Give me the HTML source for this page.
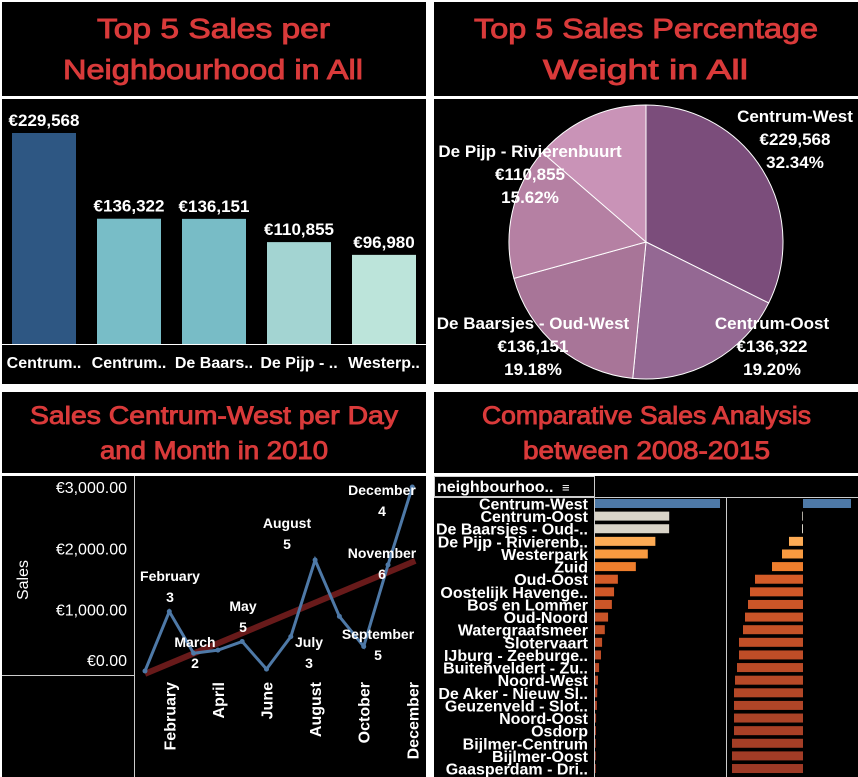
<!DOCTYPE html>
<html><head><meta charset="utf-8">
<style>
html,body{margin:0;padding:0;background:#fff;width:858px;height:777px;overflow:hidden}
svg{display:block}
text{font-family:"Liberation Sans",sans-serif}
.t{fill:#d93a3a;font-size:28px;stroke:#d93a3a;stroke-width:0.9}
.w{fill:#fff;font-weight:bold}
</style></head>
<body>
<svg id="dash" width="858" height="777" viewBox="0 0 858 777" xmlns="http://www.w3.org/2000/svg">
<rect width="858" height="777" fill="#fff"/>
<rect x="2" y="2" width="424" height="94" fill="#000"/>
<rect x="434" y="2" width="424" height="94" fill="#000"/>
<rect x="2" y="99" width="424" height="285" fill="#000"/>
<rect x="434" y="99" width="424" height="285" fill="#000"/>
<rect x="2" y="392" width="424" height="81" fill="#000"/>
<rect x="434" y="392" width="424" height="81" fill="#000"/>
<rect x="2" y="476" width="424" height="301" fill="#000"/>
<rect x="434" y="476" width="424" height="301" fill="#000"/>

<text class="t" x="97" y="38" textLength="233" lengthAdjust="spacingAndGlyphs">Top 5 Sales per</text>
<text class="t" x="63" y="79" textLength="300" lengthAdjust="spacingAndGlyphs">Neighbourhood in All</text>
<text class="t" x="474" y="38" textLength="344" lengthAdjust="spacingAndGlyphs">Top 5 Sales Percentage</text>
<text class="t" x="543" y="79" textLength="205" lengthAdjust="spacingAndGlyphs">Weight in  All</text>
<text class="t" x="30" y="424" textLength="368" lengthAdjust="spacingAndGlyphs" style="font-size:25px">Sales Centrum-West  per Day</text>
<text class="t" x="100" y="459" textLength="228" lengthAdjust="spacingAndGlyphs" style="font-size:25px">and Month in 2010</text>
<text class="t" x="482" y="424" textLength="329" lengthAdjust="spacingAndGlyphs" style="font-size:25px">Comparative Sales Analysis</text>
<text class="t" x="523" y="459" textLength="247" lengthAdjust="spacingAndGlyphs" style="font-size:25px">between 2008-2015</text>

<g id="bars"></g>
<g id="pie"></g>
<g id="line"></g>
<g id="comp"></g>
</svg>
<script>
const NS='http://www.w3.org/2000/svg';
function mk(tag,attrs,parent,txt){const e=document.createElementNS(NS,tag);for(const k in attrs)e.setAttribute(k,attrs[k]);if(txt!==undefined)e.textContent=txt;parent.appendChild(e);return e;}

const barCats=['Centrum..','Centrum..','De Baars..','De Pijp - ..','Westerp..'];
const barVals=[229568,136322,136151,110855,96980];
const barColors=['#2e5783','#78bdc7','#78bcc6','#a3d4d2','#bce4da'];

const pieNames=['Centrum-West','Centrum-Oost','De Baarsjes - Oud-West','De Pijp - Rivierenbuurt','Westerpark'];
const pieVals=[229568,136322,136151,110855,96980];
const pieColors=['#7b4d7b','#946893','#a87598','#b580a3','#c993b7'];

const months=['January','February','March','April','May','June','July','August','September','October','November','December'];
const monthSales=[0,970,290,340,480,30,560,1810,890,400,1730,3000];
const monthDays=[null,3,2,null,5,null,3,5,5,null,6,4];
const yTicks=[0,1000,2000,3000];

const compCats=['Centrum-West','Centrum-Oost','De Baarsjes - Oud-..','De Pijp - Rivierenb..','Westerpark','Zuid','Oud-Oost','Oostelijk Havenge..','Bos en Lommer','Oud-Noord','Watergraafsmeer','Slotervaart','IJburg - Zeeburge..','Buitenveldert - Zu..','Noord-West','De Aker - Nieuw Sl..','Geuzenveld - Slot..','Noord-Oost','Osdorp','Bijlmer-Centrum','Bijlmer-Oost','Gaasperdam - Dri..'];
const compSales=[229568,136322,136151,110855,96980,75000,42000,35000,31000,24000,18000,13000,11000,7500,5500,4000,3500,2000,1800,600,500,500];
const compDiff=[48,-0.6,-1,-14,-21,-31,-48,-53,-55,-58,-60,-64,-64,-66,-68,-69,-69,-69,-69,-71,-71,-71];

(function(){
  const g=document.getElementById('bars');
  const base=344, top=133, max=229568;
  const y=v=>base-(v/max)*(base-top);
  const x0=12, step=85, bw=64;
  barVals.forEach((v,i)=>{
    const r=mk('rect',{x:x0+i*step,y:y(v),width:bw,height:base-y(v),fill:barColors[i]},g);
    
    
    const t=mk('text',{x:x0+i*step+bw/2,y:y(v)-7,'text-anchor':'middle','font-size':'17',class:'w'},g,'€'+v.toLocaleString('en-US'));
    
    
    const c=mk('text',{x:x0+i*step+bw/2,y:368,'text-anchor':'middle','font-size':'16',class:'w'},g,barCats[i]);
    
    
  });
  const ax=mk('line',{x1:2,x2:426,y1:base+0.5,y2:base+0.5,stroke:'#fff','stroke-width':1},g);
  
  
})();

(function(){
  const g=document.getElementById('pie');
  const cx=646, cy=242, r=137;
  const total=pieVals.reduce((a,b)=>a+b,0);
  let a0=0;
  pieVals.forEach((v,i)=>{
    const a1=a0+v/total*2*Math.PI;
    const p=(a)=>[cx+r*Math.sin(a),cy-r*Math.cos(a)];
    const [x1,y1]=p(a0),[x2,y2]=p(a1);
    const large=(a1-a0)>Math.PI?1:0;
    const s=mk('path',{d:`M${cx},${cy} L${x1},${y1} A${r},${r} 0 ${large} 1 ${x2},${y2} Z`,fill:pieColors[i],stroke:'#fff','stroke-width':1},g);
    
    
    a0=a1;
  });
  const lpos=[[795,122],[772,329],[533,329],[530,157]];
  lpos.forEach((pp,i)=>{
    const pct=(pieVals[i]/total*100).toFixed(2)+'%';
    const lines=[pieNames[i],'€'+pieVals[i].toLocaleString('en-US'),pct];
    lines.forEach((s,j)=>{
      const t=mk('text',{x:pp[0],y:pp[1]+j*23,'text-anchor':'middle','font-size':'17',class:'w'},g,s);
      
      
    });
  });
})();

(function(){
  const g=document.getElementById('line');
  const y0=671, yMax=3000, h=184;
  const y=v=>y0-v/yMax*h;
  const x=i=>145+i*24.3;
  const dv=mk('line',{x1:134.5,x2:134.5,y1:476,y2:777,stroke:'#ccc','stroke-width':1},g);
  
  
  const dh=mk('line',{x1:2,x2:134,y1:675.5,y2:675.5,stroke:'#ccc','stroke-width':1},g);
  
  
  yTicks.forEach(v=>{
    const yy=Math.min(y(v)+6,666);
    const t=mk('text',{x:127,y:yy,'text-anchor':'end','font-size':'16',fill:'#fff'},g,'€'+v.toLocaleString('en-US',{minimumFractionDigits:2}));
    
    
  });
  const st=mk('text',{x:0,y:0,'font-size':'16',fill:'#fff','text-anchor':'middle',transform:'translate(28,580) rotate(-90)'},g,'Sales');
  
  
  months.forEach((m,i)=>{
    if(i%2===1){
      const t=mk('text',{x:0,y:0,'font-size':'16',class:'w','text-anchor':'end',transform:`translate(${x(i)+6},682) rotate(-90)`},g,m);
      
      
    }
  });
  const n=monthSales.length;let sx=0,sy=0,sxy=0,sxx=0;
  monthSales.forEach((v,i)=>{sx+=i;sy+=v;sxy+=i*v;sxx+=i*i;});
  const b=(n*sxy-sx*sy)/(n*sxx-sx*sx), a=(sy-b*sx)/n;
  const tr=mk('line',{x1:x(0),y1:y(a),x2:x(n-1)+3,y2:y(a+b*(n-1)),stroke:'#7a1f1f','stroke-width':6,'stroke-opacity':0.85},g);
  
  
  const pl=mk('polyline',{points:monthSales.map((v,i)=>x(i)+','+y(v)).join(' '),fill:'none',stroke:'#4e79a7','stroke-width':3},g);
  
  
  monthSales.forEach((v,i)=>{
    const c=mk('circle',{cx:x(i),cy:y(v),r:2.5,fill:'#4e79a7'},g);
    
    
  });
  const ann={1:[170,581],2:[195,647],4:[243,611],7:[287,528],6:[309,647],8:[378,639],10:[382,558],11:[382,495]};
  Object.keys(ann).forEach(k=>{
    const i=+k,[ax,ay]=ann[k];
    [months[i],String(monthDays[i])].forEach((s,j)=>{
      const t=mk('text',{x:ax,y:ay+j*21,'text-anchor':'middle','font-size':'14',class:'w'},g,s);
      
      
    });
  });
})();

(function(){
  const g=document.getElementById('comp');
  const hd=mk('rect',{x:434.5,y:476.5,width:160,height:20,fill:'none',stroke:'#ccc','stroke-width':1},g);
  
  
  const ht=mk('text',{x:437,y:492,'font-size':'16',class:'w'},g,'neighbourhoo..');
  
  
  const si=mk('text',{x:562,y:492,'font-size':'13',fill:'#fff'},g,'≡');
  
  
  [[594.5,476,594.5,777],[726.5,498,726.5,777]].forEach(l=>{
    const e=mk('line',{x1:l[0],y1:l[1],x2:l[2],y2:l[3],stroke:'#ccc','stroke-width':1},g);
    
    
  });
  const hl=mk('line',{x1:434,x2:858,y1:497.5,y2:497.5,stroke:'#ccc','stroke-width':1},g);
  
  
  const rowY=i=>503.5+i*12.62;
  const sx=v=>v/229568*125;
  const dz=803;
  const nC=compCats.length;
  const stops=[[0,[253,171,85]],[0.055,[248,154,64]],[0.11,[238,127,45]],[0.17,[211,90,40]],[1,[158,58,38]]];
  function color(i){
    if(i===0) return '#4e79a7';
    if(i<3) return '#d9d4c8';
    const t=(i-3)/(nC-4);
    let k=0;while(k<stops.length-2&&t>stops[k+1][0])k++;
    const [t0,c0]=stops[k],[t1,c1]=stops[k+1];
    const f=Math.max(0,Math.min(1,(t-t0)/(t1-t0)));
    const c=c0.map((v,j)=>Math.round(v+(c1[j]-v)*f));
    return `rgb(${c[0]},${c[1]},${c[2]})`;
  }
  compCats.forEach((c,i)=>{
    const yy=rowY(i);
    const t=mk('text',{x:588,y:yy+6,'text-anchor':'end','font-size':'16',class:'w'},g,c);
    
    
    const r=mk('rect',{x:595,y:yy-4.5,width:Math.max(sx(compSales[i]),0.8),height:9,fill:color(i)},g);
    
    
    const d=compDiff[i];
    const w=Math.max(Math.abs(d),0.8);
    const r2=mk('rect',{x:d>=0?dz:dz-w,y:yy-4.5,width:w,height:9,fill:color(i)},g);
    
    
  });
})();
</script>
</body></html>
